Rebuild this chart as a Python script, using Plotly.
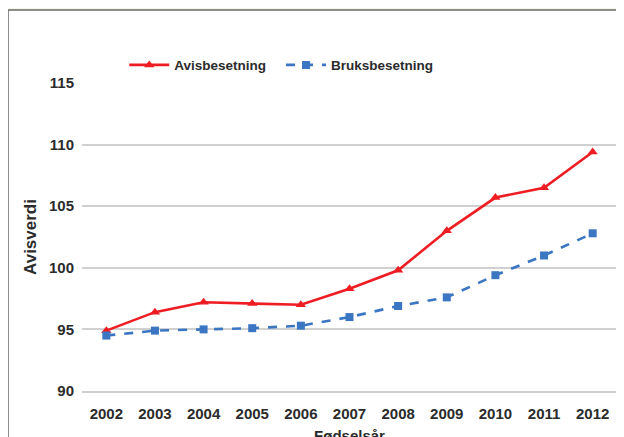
import plotly.graph_objects as go

years = [2002, 2003, 2004, 2005, 2006, 2007, 2008, 2009, 2010, 2011, 2012]
avis = [94.9, 96.4, 97.2, 97.1, 97.0, 98.3, 99.8, 103.0, 105.7, 106.5, 109.4]
bruks = [94.5, 94.9, 95.0, 95.1, 95.3, 96.0, 96.9, 97.6, 99.4, 101.0, 102.8]
yticks = [90, 95, 100, 105, 110, 115]

FONT = "Liberation Sans"
TXT = "#2b2b2b"

fig = go.Figure()
fig.add_trace(go.Scatter(
    x=years, y=avis, name="Avisbesetning", mode="lines+markers",
    line=dict(color="#ee1d23", width=2.6),
    marker=dict(symbol="triangle-up", size=9, color="#ee1d23"),
    legend="legend",
))
fig.add_trace(go.Scatter(
    x=years, y=bruks, name="Bruksbesetning", mode="lines+markers",
    line=dict(color="#3a76c2", width=2.6, dash="dash"),
    marker=dict(symbol="square", size=8, color="#3a76c2"),
    legend="legend2",
))

legfont = dict(size=13.5, family=FONT, color=TXT, weight="bold")
fig.update_layout(
    width=624, height=437,
    margin=dict(l=74, r=15, t=75, b=54),
    paper_bgcolor="#f4f8e9",
    plot_bgcolor="rgba(0,0,0,0)",
    font=dict(family=FONT, size=15, color=TXT, weight="bold"),
    showlegend=True,
    legend=dict(orientation="h", x=0.079, y=1.058, xanchor="left", yanchor="middle",
                font=legfont, bgcolor="rgba(0,0,0,0)", itemwidth=40),
    legend2=dict(orientation="h", x=0.372, y=1.058, xanchor="left", yanchor="middle",
                 font=legfont, bgcolor="rgba(0,0,0,0)", itemwidth=40),
    shapes=[dict(type="rect", xref="paper", yref="paper",
                 x0=-0.1383, x1=1.2, y0=-0.3, y1=1.237,
                 fillcolor="white", line=dict(color="#6a6a6a", width=1.5),
                 layer="below")],
    xaxis=dict(
        range=[2001.5, 2012.5], tickvals=years, ticktext=[str(y) for y in years],
        showgrid=False, zeroline=False, showline=True, linecolor="#cfcfcf", linewidth=1.5,
        ticks="", ticklabelstandoff=8,
        tickfont=dict(size=15, family=FONT, color=TXT, weight="bold"),
        title=dict(text="Fødselsår", standoff=10,
                   font=dict(size=15, family=FONT, color=TXT, weight="bold")),
        automargin=False,
    ),
    yaxis=dict(
        range=[90, 115], tickvals=yticks, showgrid=True, gridcolor="#d0d0d0", gridwidth=1.5,
        zeroline=False, showline=False, ticks="", ticklabelstandoff=7,
        tickfont=dict(size=15, family=FONT, color=TXT, weight="bold"),
        title=dict(text="Avisverdi", standoff=8,
                   font=dict(size=17, family=FONT, color=TXT, weight="bold")),
        automargin=False,
    ),
)

fig.write_html("out.html")
